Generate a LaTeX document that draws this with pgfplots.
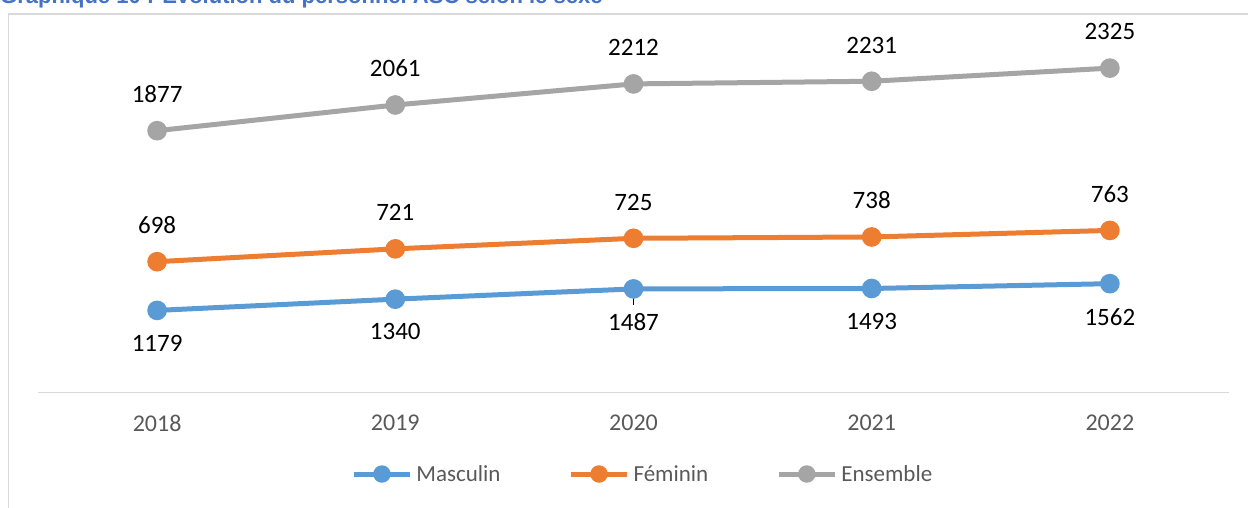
\documentclass[border=0pt]{standalone}
\usepackage{fontspec}
\setmainfont{Carlito}
\newfontfamily\titlefont{Liberation Sans}
\usepackage{pgfplots}
\pgfplotsset{compat=1.18}
\definecolor{cMasc}{HTML}{5B9BD5}
\definecolor{cFem}{HTML}{ED7D31}
\definecolor{cEns}{HTML}{A5A5A5}
\definecolor{cGrid}{HTML}{D9D9D9}
\definecolor{cText}{HTML}{595959}
\definecolor{cTitle}{HTML}{4472C4}
\begin{document}
\begin{tikzpicture}
\useasboundingbox (0,0) rectangle (1248bp,508bp);
% title (partly cut off at top)
\node[anchor=base west, inner sep=0pt, text=cTitle, font={\titlefont\bfseries\fontsize{22bp}{26bp}\selectfont}] at (0bp,504.2bp) {Graphique 10 : Évolution du personnel ASC selon le sexe};
% chart border
\draw[cGrid, line width=1.3bp] (8.3bp,-5bp) -- (8.3bp,494bp) -- (1260bp,494bp);
\begin{axis}[
  at={(38bp,115.3bp)}, anchor=south west,
  scale only axis, width=1191bp, height=349bp,
  xmin=-0.5, xmax=4.5, ymin=0, ymax=5000,
  stack plots=y,
  clip=false,
  hide y axis,
  axis x line*=bottom,
  x axis line style={cGrid, line width=1.3bp, -},
  xtick={0,1,2,3,4},
  xticklabels={2018,2019,2020,2021,2022},
  major tick length=0pt,
  xticklabel style={font=\fontsize{24bp}{28bp}\selectfont, text=cText, inner sep=0pt, anchor=north, yshift=-22bp},
  point meta=explicit symbolic,
  nodes near coords={\pgfplotspointmeta},
  legend columns=3,
  legend style={draw=none, fill=none, at={(0.507,-0.233)}, anchor=center,
    font=\fontsize{23bp}{28bp}\selectfont, text=cText,
    nodes={inner sep=0pt},
    /tikz/every odd column/.append style={column sep=4bp},
    /tikz/every even column/.append style={column sep=68bp}},
  legend image code/.code={\draw[mark repeat=2,mark phase=2,mark size=6.2bp] plot coordinates {(0bp,0bp) (28bp,0bp) (56bp,0bp)};},
]
\addplot[cMasc, line width=5bp, mark=*, mark size=7.3bp, mark options={draw=none, fill=cMasc},
  every node near coord/.append style={font=\fontsize{25bp}{30bp}\selectfont, text=black, inner sep=0pt, anchor=north, yshift=-22bp}]
  coordinates {(0,1179) [1179] (1,1340) [1340] (2,1487) [1487] (3,1493) [1493] (4,1562) [1562]};
\addlegendentry{Masculin}
\addplot[cFem, line width=5bp, mark=*, mark size=7.3bp, mark options={draw=none, fill=cFem},
  every node near coord/.append style={font=\fontsize{25bp}{30bp}\selectfont, text=black, inner sep=0pt, anchor=south, yshift=25.5bp}]
  coordinates {(0,698) [698] (1,721) [721] (2,725) [725] (3,738) [738] (4,763) [763]};
\addlegendentry{Féminin}
\addplot[cEns, line width=5bp, mark=*, mark size=7.3bp, mark options={draw=none, fill=cEns},
  every node near coord/.append style={font=\fontsize{25bp}{30bp}\selectfont, text=black, inner sep=0pt, anchor=south, yshift=25.5bp}]
  coordinates {(0,1877) [1877] (1,2061) [2061] (2,2212) [2212] (3,2231) [2231] (4,2325) [2325]};
\addlegendentry{Ensemble}
\draw[black, line width=0.9bp] (axis cs:2,1487) -- ([yshift=-16bp]axis cs:2,1487);
\end{axis}
\end{tikzpicture}
\end{document}
